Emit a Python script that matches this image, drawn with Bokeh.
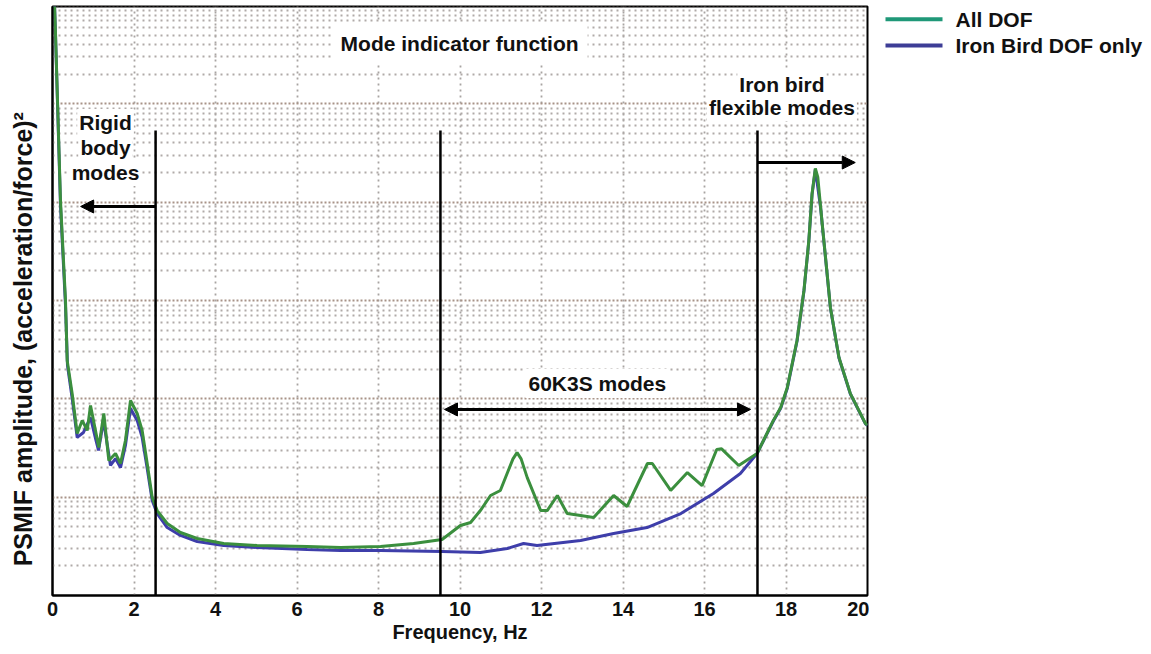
from bokeh.plotting import figure
from bokeh.layouts import row
from bokeh.models import (Range1d, FixedTicker, Label, Arrow, NormalHead,
                          CustomJSTickFormatter)
from bokeh.core.properties import value
from bokeh.embed import file_html
from bokeh.resources import INLINE

# ---------------- data ----------------
freq_all = [0.025, 0.05, 0.074, 0.196, 0.319, 0.36, 0.483, 0.606, 0.729, 0.852,
            0.933, 1.055, 1.136, 1.259, 1.382, 1.546, 1.669, 1.79, 1.914, 2.078,
            2.2, 2.324, 2.447, 2.569, 2.815, 3.14, 3.55, 4.2, 5.02, 6.25,
            7.07, 8.05, 8.86, 9.56, 10.01, 10.26, 10.5, 10.75, 10.99, 11.3,
            11.4, 11.5, 11.65, 11.98, 12.14, 12.39, 12.63, 12.96, 13.28, 13.77,
            14.1, 14.6, 14.72, 15.17, 15.58, 15.94, 16.3, 16.42, 16.84, 17.29,
            17.69, 17.87, 18.03, 18.27, 18.44, 18.56, 18.64, 18.72, 18.78, 18.85,
            18.97, 19.09, 19.3, 19.58, 19.95, 20.0]
amp_all = [1300, 1000, 519, 10.4, 1.0, 0.245, 0.113, 0.0444, 0.0603, 0.0477,
           0.0855, 0.0477, 0.032, 0.071, 0.0236, 0.0278, 0.022, 0.0377, 0.0962, 0.071,
           0.0477, 0.022, 0.00993, 0.00731, 0.0054, 0.00437, 0.0038, 0.00338, 0.00322, 0.00315,
           0.00308, 0.00315, 0.00338, 0.00371, 0.00515, 0.00552, 0.00731, 0.0104, 0.0117, 0.0245,
           0.0284, 0.0245, 0.0158, 0.00731, 0.00731, 0.0104, 0.00682, 0.00651, 0.00621, 0.0104,
           0.00804, 0.0220, 0.0220, 0.0117, 0.0178, 0.0131, 0.0305, 0.0310, 0.021, 0.0278,
           0.0603, 0.0817, 0.130, 0.392, 1.26, 4.07, 12.3, 22.0, 18.0, 8.83,
           2.74, 0.849, 0.263, 0.113, 0.0561, 0.054]

freq_iron = [0.025, 0.05, 0.074, 0.196, 0.319, 0.368, 0.49, 0.606, 0.76, 0.933,
             1.055, 1.129, 1.252, 1.423, 1.546, 1.669, 1.79, 1.914, 2.078, 2.2,
             2.324, 2.447, 2.569, 2.815, 3.14, 3.55, 4.2, 5.02, 6.25, 7.07,
             8.05, 9.56, 10.5, 11.16, 11.56, 11.89, 12.96, 13.77, 14.59, 15.42,
             16.22, 16.88, 17.29, 17.69, 17.87, 18.03, 18.27, 18.44, 18.56, 18.64,
             18.72, 18.85, 18.97, 19.09, 19.3, 19.58, 19.95, 20.0]
amp_iron = [1300, 1000, 495, 9.25, 0.889, 0.218, 0.0962, 0.0405, 0.0455, 0.0646,
            0.0395, 0.0299, 0.0603, 0.021, 0.0247, 0.02, 0.0335, 0.0798, 0.0603, 0.0405,
            0.0196, 0.00925, 0.00682, 0.00491, 0.00408, 0.00354, 0.00322, 0.00308, 0.00294, 0.00287,
            0.00287, 0.0028, 0.00274, 0.00301, 0.00338, 0.00322, 0.00363, 0.00427, 0.00491, 0.00682,
            0.0109, 0.0174, 0.0278, 0.0595, 0.080, 0.127, 0.385, 1.24, 4.0, 12.0,
            21.5, 8.7, 2.7, 0.84, 0.26, 0.112, 0.0556, 0.0535]

series_names = ["All DOF", "Iron Bird DOF only"]
legend_colors = ["#1f9878", "#3d3d96"]

x_ticks = [0, 2, 4, 6, 8, 10, 12, 14, 16, 18, 20]
y_decades = [1e-3, 1e-2, 1e-1, 1, 10, 100, 1000]
y_minor = [m * 10.0 ** k for k in range(-3, 3) for m in range(2, 10)]

# region boundaries (Hz) and annotation anchors
boundary_freqs = [2.53, 9.52, 17.30]
boundary_top = 53.6
rigid_arrow = (2.53, 0.69, 9.04)        # x_start, x_end, y
flex_arrow = (17.30, 19.70, 25.3)
k3s_arrow = (9.62, 17.13, 0.078)

FONT = "Liberation Sans"
GREEN = "#3b8f3e"
BLUE = "#3e3eaa"

p = figure(width=869, height=648, x_range=Range1d(0, 20),
           y_range=Range1d(1e-3, 977), y_axis_type="log",
           output_backend="svg", toolbar_location=None,
           min_border_left=52, min_border_right=2,
           min_border_top=6, min_border_bottom=53)

p.background_fill_color = "white"
p.border_fill_color = "white"
p.outline_line_color = "black"
p.outline_line_width = 2

# grids
p.xaxis.ticker = FixedTicker(ticks=x_ticks)
p.yaxis.ticker = FixedTicker(ticks=y_decades, minor_ticks=y_minor)
p.xgrid.grid_line_color = "#a8a4a2"
p.xgrid.grid_line_dash = "2 4"
p.xgrid.grid_line_width = 1.8
p.ygrid.grid_line_color = "#a89388"
p.ygrid.grid_line_dash = "2 2"
p.ygrid.grid_line_width = 1.8
p.ygrid.minor_grid_line_color = "#b0aaa8"
p.ygrid.minor_grid_line_dash = "2 4"
p.ygrid.minor_grid_line_width = 1.8

# axes
for ax in (p.xaxis, p.yaxis):
    ax.major_tick_in = 0
    ax.major_tick_out = 0
    ax.minor_tick_in = 0
    ax.minor_tick_out = 0
    ax.axis_line_color = "black"
    ax.axis_line_width = 2
p.xaxis.major_label_text_font = FONT
p.xaxis.major_label_text_font_style = "bold"
p.xaxis.major_label_text_font_size = "20px"
p.xaxis.major_label_text_color = "#111111"
p.xaxis.major_label_standoff = 6
p.xaxis.axis_label = "Frequency, Hz"
p.xaxis.axis_label_text_font = FONT
p.xaxis.axis_label_text_font_style = "bold"
p.xaxis.axis_label_text_font_size = "20px"
p.xaxis.axis_label_text_color = "#111111"
p.xaxis.axis_label_standoff = 2

p.yaxis.formatter = CustomJSTickFormatter(code="return ''")
p.yaxis.major_label_text_font_size = "10px"
p.yaxis.major_label_standoff = 0
p.yaxis.axis_label = "PSMIF amplitude, (acceleration/force)\u00b2" + "\u00a0" * 11
p.yaxis.axis_label_text_font = FONT
p.yaxis.axis_label_text_font_style = "bold"
p.yaxis.axis_label_text_font_size = "25px"
p.yaxis.axis_label_text_color = "#111111"
p.yaxis.axis_label_standoff = 16

# curves
p.line(freq_iron, amp_iron, line_color=BLUE, line_width=3)
p.line(freq_all, amp_all, line_color=GREEN, line_width=3)

# region boundaries
p.segment(x0=boundary_freqs, y0=[1e-3] * 3, x1=boundary_freqs,
          y1=[boundary_top] * 3, line_color="black", line_width=2.5)

def head():
    return NormalHead(size=13, fill_color="black", line_color="black")

p.add_layout(Arrow(end=head(), x_start=rigid_arrow[0], x_end=rigid_arrow[1],
                   y_start=rigid_arrow[2], y_end=rigid_arrow[2],
                   line_width=3, line_color="black"))
p.add_layout(Arrow(end=head(), x_start=flex_arrow[0], x_end=flex_arrow[1],
                   y_start=flex_arrow[2], y_end=flex_arrow[2],
                   line_width=3, line_color="black"))
p.add_layout(Arrow(start=head(), end=head(), x_start=k3s_arrow[0], x_end=k3s_arrow[1],
                   y_start=k3s_arrow[2], y_end=k3s_arrow[2],
                   line_width=3, line_color="black"))

def lab(text, x, y, pad=4, size="21px"):
    l = Label(x=x, y=y, text=text, text_font=FONT, text_font_style="bold",
              text_font_size=size, text_color="#111111", text_align="center",
              text_baseline="middle", background_fill_color="white")
    l.padding = pad
    p.add_layout(l)

lab("Mode indicator function", 9.99, 411, pad=9)
lab("Rigid", 1.30, 64.6, pad=2)
lab("body", 1.30, 36.0, pad=2)
lab("modes", 1.30, 20.0, pad=2)
lab("Iron bird", 17.9, 157, pad=2)
lab("flexible modes", 17.9, 91.8, pad=2)
lab("60K3S modes", 13.37, 0.143, pad=3)

# legend panel to the right of the chart (pixel-like coordinates, y downwards)
q = figure(width=279, height=648, x_range=Range1d(0, 279), y_range=Range1d(648, 0),
           output_backend="svg", toolbar_location=None, min_border=0)
q.axis.visible = False
q.grid.visible = False
q.outline_line_color = None
q.background_fill_color = "white"
q.border_fill_color = "white"
legend_rows = [14, 43]
q.segment(x0=[16] * 2, x1=[73] * 2, y0=legend_rows, y1=legend_rows,
          line_color=legend_colors, line_width=4)
q.text(x=[86] * 2, y=legend_rows, text=series_names, text_font=value(FONT),
       text_font_style="bold", text_font_size="21px", text_color="#111111",
       text_baseline="middle", text_align="left")

layout = row(p, q, spacing=0)
open("out.html", "w").write(file_html(layout, INLINE))
